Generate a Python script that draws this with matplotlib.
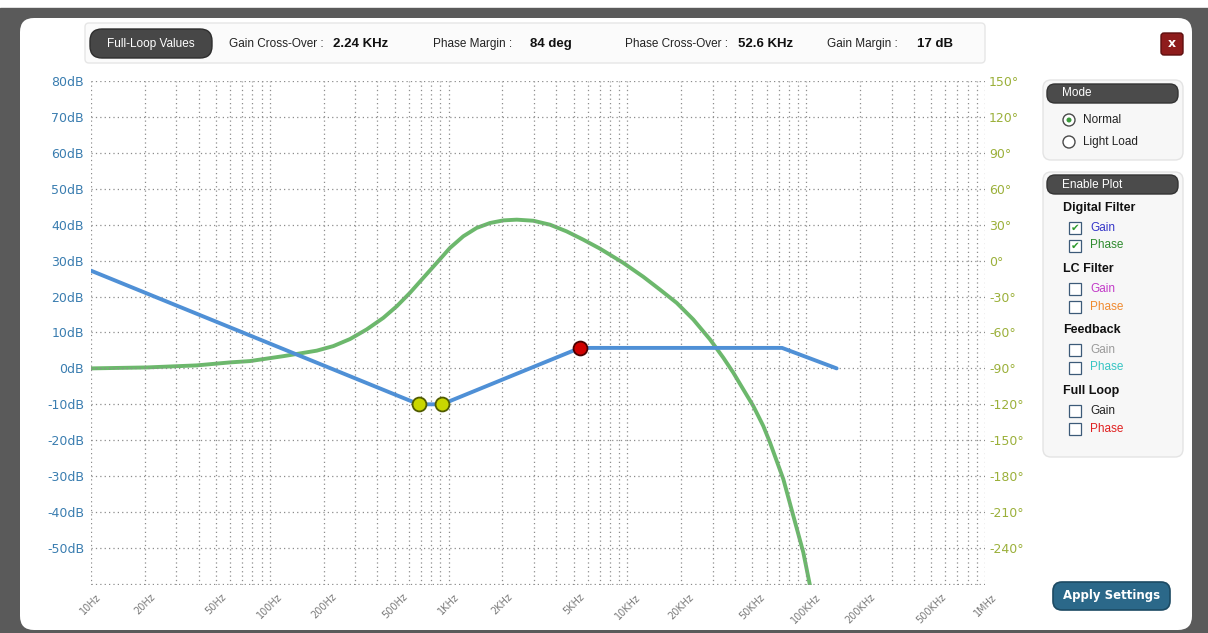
import matplotlib as mpl
mpl.use("Agg")
import matplotlib.pyplot as plt
from matplotlib.patches import FancyBboxPatch, Rectangle, Circle
from matplotlib.ticker import LogLocator, NullFormatter


# ---------------------------------------------------------------------------
# data
# ---------------------------------------------------------------------------
GAIN_FREQ_HZ = [10, 682, 918, 5430, 73300, 148000]
GAIN_DB = [27.2, -10, -10, 5.7, 5.7, 0]

ZERO_MARK_FREQ_HZ = [682, 918]
ZERO_MARK_DB = [-10, -10]
POLE_MARK_FREQ_HZ = [5430]
POLE_MARK_DB = [5.7]

PHASE_FREQ_HZ = [10, 20.6, 39, 60, 77.4, 119, 147.6, 183, 226.5, 281, 348, 431.5,
                 513, 608, 722, 858, 1018, 1208, 1435, 1704, 2023, 2404, 2978,
                 3690, 4573, 5662, 7025, 9488, 12270, 15200, 18870, 23370, 28970,
                 34390, 39110, 44460, 50580, 57540, 62730, 68390, 74490, 79430,
                 84700, 90320, 96320, 105000]
PHASE_DEG = [-90, -89.2, -87.5, -85, -83.9, -79.8, -77.5, -75.2, -71.4, -65.5, -57.5, -47.8,
             -38.1, -26.9, -14.4, -1.9, 10.6, 20.3, 27.3, 31.4, 33.6, 34.2, 33.3,
             30, 24.4, 17.5, 10, -1.9, -13.5, -24.2, -35.3, -49.2, -65.8,
             -81.1, -93.6, -107.5, -121.4, -138.1, -151.9, -167.3, -182.5, -197.8,
             -213.1, -228.3, -243.6, -271.4]

FREQ_TICKS_HZ = [10, 20, 50, 100, 200, 500, 1e3, 2e3, 5e3, 1e4, 2e4, 5e4,
                 1e5, 2e5, 5e5, 1e6]
FREQ_TICK_LABELS = ["10Hz", "20Hz", "50Hz", "100Hz", "200Hz", "500Hz", "1KHz",
                    "2KHz", "5KHz", "10KHz", "20KHz", "50KHz", "100KHz",
                    "200KHz", "500KHz", "1MHz"]
GAIN_TICKS_DB = [80, 70, 60, 50, 40, 30, 20, 10, 0, -10, -20, -30, -40, -50, -60]
PHASE_TICKS_DEG = [150, 120, 90, 60, 30, 0, -30, -60, -90, -120, -150, -180, -210, -240]

LOOP_NAMES = ["Gain Cross-Over :", "Phase Margin :", "Phase Cross-Over :", "Gain Margin :"]
LOOP_VALUES = ["2.24 KHz", "84 deg", "52.6 KHz", "17 dB"]

MODE_OPTIONS = ["Normal", "Light Load"]
PLOT_GROUPS = ["Digital Filter", "LC Filter", "Feedback", "Full Loop"]
PLOT_ITEM_COLORS = [("#3535c8", "#2e8b2e"), ("#c23ac8", "#f08a30"),
                    ("#9a9a9a", "#36c4c4"), ("#222222", "#e02020")]
PLOT_ITEM_CHECKED = [True, False, False, False]


W, H = 1208, 633
GAIN_COLOR = "#4f90d6"
PHASE_COLOR = "#6cb86c"
GRID_COLOR = "#8c8c8c"


def rbox(ax, x, y, w, h, r, **kw):
    ax.add_patch(FancyBboxPatch((x, y), w, h, boxstyle=f"round,pad=0,rounding_size={r}", **kw))


def draw_window(bg):
    bg.add_patch(Rectangle((0, 8), W, H - 8, color="#5a5a5a", zorder=0))
    rbox(bg, 20, 18, 1172, 612, 14, facecolor="white", edgecolor="none", zorder=1)

    # top results bar
    rbox(bg, 85, 23, 900, 40, 4, facecolor="#fbfbfb", edgecolor="#e6e6e6", lw=1, zorder=2)
    rbox(bg, 90, 29, 122, 29, 12, facecolor="#474747", edgecolor="#2e2e2e", zorder=3)
    bg.text(151, 44, "Full-Loop Values", color="white", fontsize=8.5, ha="center", va="center",
            family="Liberation Sans", zorder=4)
    for name, value, xn, xv in zip(LOOP_NAMES, LOOP_VALUES, [229, 433, 625, 827], [333, 530, 738, 917]):
        bg.text(xn, 44, name, fontsize=8.5, ha="left", va="center", family="Liberation Sans", color="#222", zorder=4)
        bg.text(xv, 44, value, fontsize=9.5, ha="left", va="center", family="Liberation Sans",
                fontweight="bold", color="#111", zorder=4)

    # close button
    rbox(bg, 1161, 33, 22, 22, 3, facecolor="#8e1c1c", edgecolor="#5e0f0f", zorder=3)
    bg.text(1172, 43.5, "x", color="white", fontsize=9, fontweight="bold", ha="center", va="center", zorder=4)

    # mode panel
    rbox(bg, 1043, 80, 140, 80, 8, facecolor="#f7f7f7", edgecolor="#e4e4e4", zorder=2)
    rbox(bg, 1047, 84, 131, 19, 8, facecolor="#4b4b4b", edgecolor="#333", zorder=3)
    bg.text(1062, 93.5, "Mode", color="white", fontsize=8.5, va="center", family="Liberation Sans", zorder=4)
    for i, option in enumerate(MODE_OPTIONS):
        y = 120 + 22 * i
        bg.add_patch(Circle((1069, y), 6, facecolor="white", edgecolor="#4a4a4a", lw=1, zorder=4))
        if i == 0:
            bg.add_patch(Circle((1069, y), 2.5, facecolor="#3b9a3b", edgecolor="none", zorder=5))
        bg.text(1083, y, option, fontsize=8.5, va="center", family="Liberation Sans", color="#222", zorder=4)

    # enable plot panel
    rbox(bg, 1043, 172, 140, 285, 8, facecolor="#f7f7f7", edgecolor="#e4e4e4", zorder=2)
    rbox(bg, 1047, 175, 131, 19, 8, facecolor="#4b4b4b", edgecolor="#333", zorder=3)
    bg.text(1062, 184.5, "Enable Plot", color="white", fontsize=8.5, va="center", family="Liberation Sans", zorder=4)
    for g, (group, colors, checked) in enumerate(zip(PLOT_GROUPS, PLOT_ITEM_COLORS, PLOT_ITEM_CHECKED)):
        y0 = 208 + 61 * g
        bg.text(1063, y0, group, fontsize=9, fontweight="bold", va="center", family="Liberation Sans",
                color="#111", zorder=4)
        for k, (item, col) in enumerate(zip(["Gain", "Phase"], colors)):
            y = y0 + 20 + 17.5 * k
            bg.add_patch(Rectangle((1069, y - 6), 12, 12, facecolor="white", edgecolor="#3c5a78", lw=0.9, zorder=4))
            if checked:
                bg.text(1075, y, "\u2714", color="#2e9a2e", fontsize=7.5, ha="center", va="center", zorder=5)
            bg.text(1090, y, item, color=col, fontsize=8.5, va="center", family="Liberation Sans", zorder=4)

    # apply button
    rbox(bg, 1053, 582, 117, 28, 9, facecolor="#2b6889", edgecolor="#1c4a63", lw=1.2, zorder=3)
    bg.text(1111.5, 596, "Apply Settings", color="white", fontsize=8.5, fontweight="bold",
            ha="center", va="center", zorder=4)


def make_figure():
    plt.rcParams["font.family"] = ["DejaVu Sans"]
    fig = plt.figure(figsize=(W / 100, H / 100), dpi=100, facecolor="white")

    bg = fig.add_axes([0, 0, 1, 1], zorder=0)
    bg.set_xlim(0, W)
    bg.set_ylim(H, 0)
    bg.axis("off")
    draw_window(bg)

    left, right, top, bottom = 91, 985, 81, 585
    ax = fig.add_axes([left / W, 1 - bottom / H, (right - left) / W, (bottom - top) / H], zorder=2)
    ax.patch.set_visible(False)
    ax.set_xscale("log")
    ax.set_xlim(10, 1e6)
    ax.set_ylim(-60.3, 80)

    ax2 = ax.twinx()
    ax2.set_ylim(-270.9, 150)
    ax2.plot(PHASE_FREQ_HZ, PHASE_DEG, color=PHASE_COLOR, lw=2.8, solid_capstyle="round",
             solid_joinstyle="round", zorder=3)

    ax.plot(GAIN_FREQ_HZ, GAIN_DB, color=GAIN_COLOR, lw=2.8, solid_capstyle="round", zorder=4)
    ax.plot(ZERO_MARK_FREQ_HZ, ZERO_MARK_DB, "o", ms=10, mfc="#c8d600", mec="#4f5a00", mew=1.3, zorder=5)
    ax.plot(POLE_MARK_FREQ_HZ, POLE_MARK_DB, "o", ms=10, mfc="#d00000", mec="#4a0000", mew=1.3, zorder=5)
    ax.set_zorder(ax2.get_zorder() + 1)

    ax.set_xticks(FREQ_TICKS_HZ)
    ax.set_xticklabels(FREQ_TICK_LABELS, rotation=45, fontsize=7, color="#7a7a7a")
    ax.xaxis.set_minor_locator(LogLocator(base=10, subs=range(2, 10), numticks=20))
    ax.xaxis.set_minor_formatter(NullFormatter())
    ax.set_yticks(GAIN_TICKS_DB)
    ax.set_yticklabels([f"{v}dB" if v > -60 else "" for v in GAIN_TICKS_DB], fontsize=9, color="#3a7db0")
    ax2.set_yticks(PHASE_TICKS_DEG)
    ax2.set_yticklabels([f"{v}\u00b0" for v in PHASE_TICKS_DEG], fontsize=9, color="#9bb03a")

    ax.tick_params(axis="both", which="both", length=0)
    ax.tick_params(axis="y", pad=5)
    ax.tick_params(axis="x", pad=5)
    ax2.tick_params(axis="y", length=0, pad=3)
    for a in (ax, ax2):
        for s in a.spines.values():
            s.set_visible(False)

    ax.grid(which="both", axis="x", color=GRID_COLOR, lw=0.9, ls=(0, (1, 2.5)))
    ax.grid(which="major", axis="y", color=GRID_COLOR, lw=0.9, ls=(0, (1, 2.5)))
    ax.set_axisbelow(True)

    fig.savefig("out.png", dpi=100, facecolor="white")
    plt.close(fig)


if __name__ == "__main__":
    make_figure()
